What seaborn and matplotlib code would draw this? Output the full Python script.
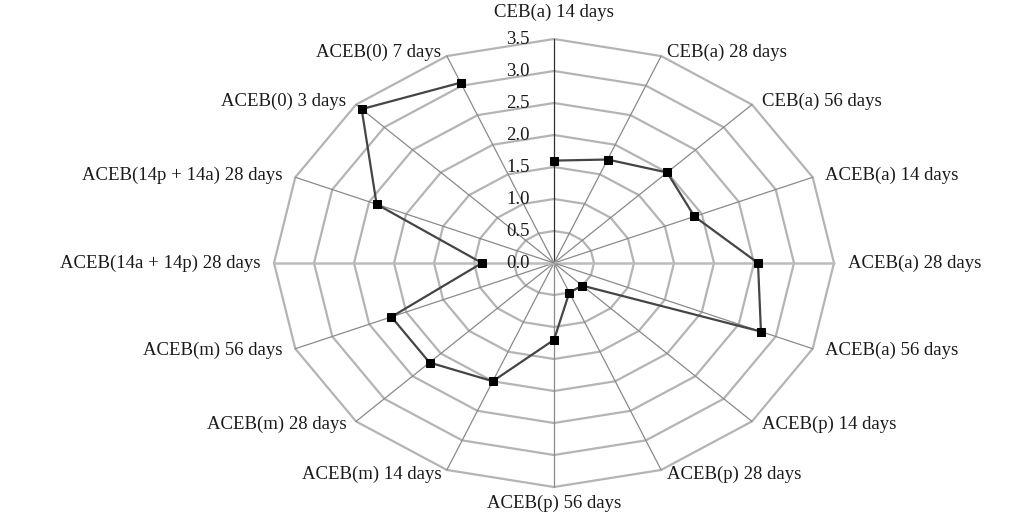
import numpy as np
import pandas as pd
import matplotlib
matplotlib.use("Agg")
import matplotlib.pyplot as plt
import seaborn as sns

sns.set_style("white")
plt.rcParams['font.family'] = ['Liberation Serif', 'DejaVu Serif']

# categories clockwise from the top
categories = ["CEB(a) 14 days", "CEB(a) 28 days", "CEB(a) 56 days",
              "ACEB(a) 14 days", "ACEB(a) 28 days", "ACEB(a) 56 days",
              "ACEB(p) 14 days", "ACEB(p) 28 days", "ACEB(p) 56 days",
              "ACEB(m) 14 days", "ACEB(m) 28 days", "ACEB(m) 56 days",
              "ACEB(14a + 14p) 28 days", "ACEB(14p + 14a) 28 days",
              "ACEB(0) 3 days", "ACEB(0) 7 days"]
values = [1.6, 1.75, 2.0, 1.9, 2.55, 2.8, 0.5, 0.5, 1.2,
          2.0, 2.2, 2.2, 0.9, 2.4, 3.4, 3.05]
ring_ticks = [0.0, 0.5, 1.0, 1.5, 2.0, 2.5, 3.0, 3.5]

n = len(categories)
ang = np.arange(n) * 2 * np.pi / n
rmax = ring_ticks[-1]
fs = 13.5

fig = plt.figure(figsize=(10.19, 5.18), dpi=100)
ax = fig.add_axes([0, 0, 1, 1])

# polygon rings
closed = np.append(ang, ang[0])
for r in ring_ticks[1:]:
    ax.plot(r * np.sin(closed), r * np.cos(closed), color="#b4b4b4", lw=1.6, zorder=1)

# spokes
for i, a in enumerate(ang):
    if i == 0:
        col, lw = "#303030", 0.9
    elif i in (4, 12):
        col, lw = "#bcbcbc", 1.8
    else:
        col, lw = "#8a8a8a", 0.9
    ax.plot([0, rmax * np.sin(a)], [0, rmax * np.cos(a)], color=col, lw=lw, zorder=1)

# ring value labels along the top spoke
for r in ring_ticks:
    ax.text(-36 / 80, r, f"{r:.1f}", ha="center", va="center", fontsize=fs,
            color="#1a1a1a", zorder=3)

# category labels
for lab, a in zip(categories, ang):
    s, c = np.sin(a), np.cos(a)
    x, y = rmax * s, rmax * c
    if abs(s) < 1e-6:
        ha = "center"
        y += (0.42 if c > 0 else 0.25) * np.sign(c)
    else:
        ha = "left" if s > 0 else "right"
        x += 0.17 * np.sign(s) * max(abs(s), 0.4)
        y += 0.07 * c
    ax.text(x, y, lab, ha=ha, va="center", fontsize=fs, color="#1a1a1a")

# data polygon
vals = np.array(values + values[:1])
df = pd.DataFrame({"x": vals * np.sin(closed), "y": vals * np.cos(closed)})
sns.lineplot(data=df, x="x", y="y", sort=False, ax=ax, color="#454545", lw=1.6,
             marker="s", markersize=6, markerfacecolor="black",
             markeredgecolor="black", zorder=4)

# pixel mapping: centre at (554, 263), 80 px/unit across, 64 px/unit up
ax.set_xlim(-554 / 80, (1019 - 554) / 80)
ax.set_ylim((263 - 518) / 64, 263 / 64)
ax.axis("off")

fig.savefig("out.png", dpi=100)
